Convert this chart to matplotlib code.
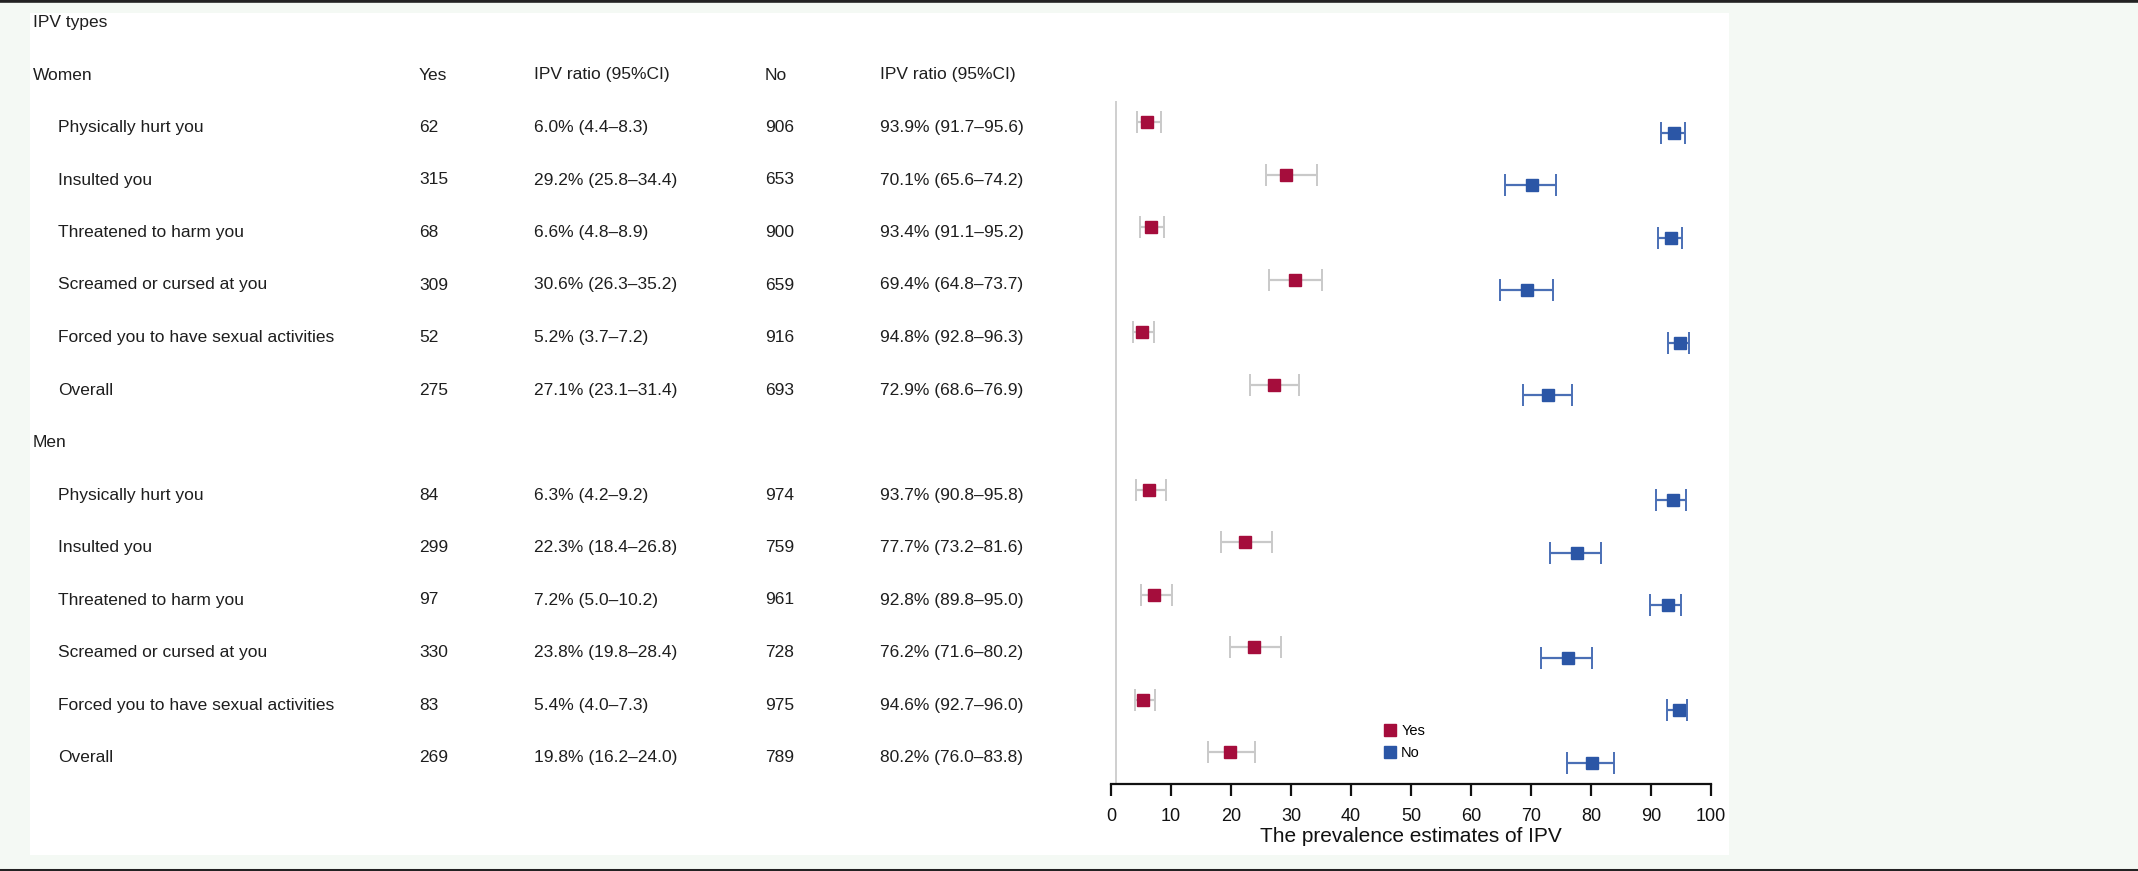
import matplotlib
matplotlib.use("Agg")
import matplotlib.pyplot as plt
from matplotlib.lines import Line2D
from matplotlib.patches import Rectangle
from matplotlib.transforms import blended_transform_factory

plt.rcParams['font.family'] = ['Liberation Sans', 'DejaVu Sans']

# ---------------- data ----------------
ipv_types = ["Physically hurt you", "Insulted you", "Threatened to harm you",
             "Screamed or cursed at you", "Forced you to have sexual activities", "Overall"]

women_yes_n = [62, 315, 68, 309, 52, 275]
women_yes_pct = [6.0, 29.2, 6.6, 30.6, 5.2, 27.1]
women_yes_lo = [4.4, 25.8, 4.8, 26.3, 3.7, 23.1]
women_yes_hi = [8.3, 34.4, 8.9, 35.2, 7.2, 31.4]
women_no_n = [906, 653, 900, 659, 916, 693]
women_no_pct = [93.9, 70.1, 93.4, 69.4, 94.8, 72.9]
women_no_lo = [91.7, 65.6, 91.1, 64.8, 92.8, 68.6]
women_no_hi = [95.6, 74.2, 95.2, 73.7, 96.3, 76.9]

men_yes_n = [84, 299, 97, 330, 83, 269]
men_yes_pct = [6.3, 22.3, 7.2, 23.8, 5.4, 19.8]
men_yes_lo = [4.2, 18.4, 5.0, 19.8, 4.0, 16.2]
men_yes_hi = [9.2, 26.8, 10.2, 28.4, 7.3, 24.0]
men_no_n = [974, 759, 961, 728, 975, 789]
men_no_pct = [93.7, 77.7, 92.8, 76.2, 94.6, 80.2]
men_no_lo = [90.8, 73.2, 89.8, 71.6, 92.7, 76.0]
men_no_hi = [95.8, 81.6, 95.0, 80.2, 96.0, 83.8]

x_ticks = [0, 10, 20, 30, 40, 50, 60, 70, 80, 90, 100]
x_label = "The prevalence estimates of IPV"
col_headers = ["Yes", "IPV ratio (95%CI)", "No", "IPV ratio (95%CI)"]
legend_labels = ["Yes", "No"]

# ---------------- style ----------------
W, H = 2138, 871
BG = "#f4f9f4"
RED = "#a50d3c"
BLUE = "#2b56a6"
BLUE_CI = "#4a6fb5"
GRAY_CI = "#c9c9c9"
TXT = "#1e1e1e"
FS = 12.5

fig = plt.figure(figsize=(W / 100, H / 100), dpi=100, facecolor=BG)

def fx(px):
    return px / W

def fy(py):
    return 1 - py / H

# white panel
fig.patches.append(Rectangle((fx(30), fy(855)), fx(1729) - fx(30), fy(13) - fy(855),
                             transform=fig.transFigure, facecolor="white", edgecolor="none", zorder=-5))
# black rules
fig.lines.append(Line2D([0, 1], [fy(1.5), fy(1.5)], transform=fig.transFigure, color="#222222", lw=2.6))
fig.lines.append(Line2D([0, 1], [fy(869.5), fy(869.5)], transform=fig.transFigure, color="#222222", lw=2.2))

# forest axes
ax = fig.add_axes([fx(1111), fy(784), fx(1711) - fx(1111), fy(101) - fy(784)])
ax.set_facecolor("none")
ax.set_zorder(2)
row_px0, row_step = 127.5, 52.5
ax.set_xlim(0, 100)
ax.set_ylim((784 - row_px0) / row_step, (101 - row_px0) / row_step)

for s in ["top", "right", "left"]:
    ax.spines[s].set_visible(False)
ax.spines["bottom"].set_linewidth(1.6)
ax.spines["bottom"].set_color("#111111")
ax.set_yticks([])
ax.set_xticks(x_ticks)
ax.tick_params(axis="x", direction="out", length=8.5, width=1.6, pad=9, labelsize=13, colors="#111111")
ax.set_xlabel(x_label, fontsize=15, labelpad=1, color="#111111")
ax.axvline(0.8, color="#cfcfcf", lw=1.4, zorder=1)

groups = [
    ("Women", women_yes_n, women_yes_pct, women_yes_lo, women_yes_hi,
     women_no_n, women_no_pct, women_no_lo, women_no_hi),
    ("Men", men_yes_n, men_yes_pct, men_yes_lo, men_yes_hi,
     men_no_n, men_no_pct, men_no_lo, men_no_hi),
]

trans = blended_transform_factory(fig.transFigure, ax.transData)
col_x = [fx(419), fx(534), fx(765), fx(880)]

def put(xf, k, s):
    fig.text(xf, k, s, transform=trans, ha="left", va="center", fontsize=FS, color=TXT)

put(fx(33), -2, "IPV types")

k = -1
for gi, (gname, yn, yp, ylo, yhi, nn, npct, nlo, nhi) in enumerate(groups):
    put(fx(33), k, gname)
    if gi == 0:
        for cx, h in zip(col_x, col_headers):
            put(cx, k, h)
    rows = []
    for i, name in enumerate(ipv_types):
        k += 1
        rows.append(k)
        put(fx(58), k, name)
        put(col_x[0], k, f"{yn[i]}")
        put(col_x[1], k, f"{yp[i]:.1f}% ({ylo[i]:.1f}\u2013{yhi[i]:.1f})")
        put(col_x[2], k, f"{nn[i]}")
        put(col_x[3], k, f"{npct[i]:.1f}% ({nlo[i]:.1f}\u2013{nhi[i]:.1f})")
    ry = [r - 0.1 for r in rows]
    rn = [r + 0.1 for r in rows]
    ax.errorbar(yp, ry, xerr=[[p - l for p, l in zip(yp, ylo)], [h - p for p, h in zip(yp, yhi)]],
                fmt="none", ecolor=GRAY_CI, elinewidth=1.6, capsize=8, capthick=1.4, zorder=2)
    ax.errorbar(npct, rn, xerr=[[p - l for p, l in zip(npct, nlo)], [h - p for p, h in zip(npct, nhi)]],
                fmt="none", ecolor=BLUE_CI, elinewidth=1.6, capsize=8, capthick=1.4, zorder=2)
    ax.plot(yp, ry, ls="none", marker="s", ms=8, color=RED, mec=RED, zorder=3)
    ax.plot(npct, rn, ls="none", marker="s", ms=8, color=BLUE, mec=BLUE, zorder=3)
    k += 1  # next group header row

handles = [Line2D([], [], ls="none", marker="s", ms=8, color=RED),
           Line2D([], [], ls="none", marker="s", ms=8, color=BLUE)]
fig.legend(handles, legend_labels, loc="upper left", bbox_to_anchor=(fx(1383), fy(724)),
           frameon=False, fontsize=10.5, handlelength=0.9, handletextpad=0.35,
           labelspacing=0.55, borderpad=0, borderaxespad=0)

fig.savefig("out.png", dpi=100, facecolor=BG)
